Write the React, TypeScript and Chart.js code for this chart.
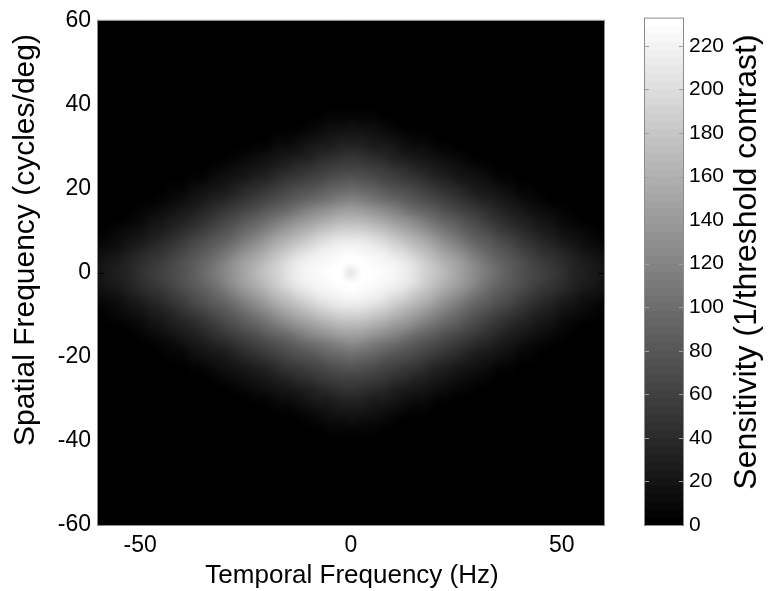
import React, { useEffect, useRef } from "react";
import { Chart, registerables } from "chart.js";

Chart.register(...registerables);

// Sample positions of one quadrant; the surface is symmetric in both axes
const TEMPORAL_FREQ_HZ = [
  0, 2.5, 5, 7.5, 10, 12.5, 15, 17.5, 20, 22.5, 25, 27.5, 30, 32.5, 35, 37.5,
  40, 42.5, 45, 47.5, 50, 52.5, 55, 57.5, 60,
];
const SPATIAL_FREQ_CPD = [
  0, 2.5, 5, 7.5, 10, 12.5, 15, 17.5, 20, 22.5, 25, 27.5, 30, 32.5, 35, 37.5,
  40, 42.5, 45, 47.5, 50, 52.5, 55, 57.5, 60,
];

// Sensitivity (1/threshold contrast): one row per spatial frequency,
// one column per temporal frequency; entries past the end of a row are 0
const SENSITIVITY: number[][] = [
  [205, 231, 230, 228, 223, 216, 205, 192, 179, 164, 151, 137, 123, 109, 97, 86, 76, 67, 59, 51, 44, 36, 30, 24, 19],
  [231, 230, 228, 225, 219, 211, 200, 187, 174, 159, 146, 132, 118, 105, 93, 83, 73, 64, 56, 48, 41, 34, 28, 22, 17],
  [226, 225, 221, 215, 207, 197, 185, 172, 158, 145, 131, 117, 104, 92, 82, 73, 63, 56, 47, 40, 33, 27, 21, 16, 11],
  [213, 211, 206, 198, 188, 177, 165, 153, 140, 127, 114, 101, 90, 80, 70, 62, 53, 46, 38, 31, 25, 20, 14, 10, 6],
  [192, 190, 183, 175, 165, 155, 143, 131, 119, 107, 96, 85, 76, 67, 58, 50, 43, 35, 29, 23, 18, 13, 8, 5, 2],
  [167, 165, 158, 150, 141, 131, 120, 109, 99, 89, 80, 70, 62, 54, 46, 39, 32, 26, 20, 15, 10, 6, 3],
  [142, 140, 133, 125, 117, 107, 98, 89, 81, 72, 64, 56, 49, 42, 35, 28, 22, 17, 12, 8, 5, 2],
  [118, 115, 108, 101, 94, 87, 79, 71, 64, 57, 50, 43, 36, 30, 24, 19, 14, 10, 6, 3],
  [95, 93, 88, 82, 76, 70, 63, 56, 50, 43, 37, 30, 25, 20, 15, 11, 7, 4, 1],
  [77, 75, 70, 65, 60, 54, 48, 42, 36, 31, 25, 20, 15, 11, 7, 4, 1],
  [61, 59, 55, 51, 45, 40, 35, 30, 25, 20, 15, 12, 8, 5, 2],
  [48, 46, 41, 37, 32, 28, 24, 20, 15, 11, 8, 5, 2],
  [34, 33, 29, 26, 22, 18, 14, 11, 7, 5, 2],
  [24, 22, 19, 17, 13, 10, 6, 4, 1],
  [15, 13, 11, 8, 5, 3, 1],
  [7, 5, 4, 2],
  [1],
];

const X_TICKS = [-50, 0, 50];
const Y_TICKS = [-60, -40, -20, 0, 20, 40, 60];
const COLORBAR_TICKS = [0, 20, 40, 60, 80, 100, 120, 140, 160, 180, 200, 220];
const AXIS_LIMIT = 60;
const COLOR_MAX = 232.5;
const COLOR_LEVELS = 64;

const X_TITLE = "Temporal Frequency (Hz)";
const Y_TITLE = "Spatial Frequency (cycles/deg)";
const COLORBAR_TITLE = "Sensitivity (1/threshold contrast)";

const FONT = "'Liberation Sans', Arial, Helvetica, sans-serif";

type Cell = { x: number; y: number; v: number };

// gray(64) colormap lookup
function grayLevel(v: number): number {
  const level = Math.max(
    0,
    Math.min(COLOR_LEVELS - 1, Math.floor((v / COLOR_MAX) * COLOR_LEVELS))
  );
  return Math.round((level * 255) / (COLOR_LEVELS - 1));
}
function grayFor(v: number): string {
  const g = grayLevel(v);
  return `rgb(${g},${g},${g})`;
}

function mirrored(values: number[]): number[] {
  const neg = values.filter((v) => v > 0).map((v) => -v).reverse();
  return [...neg, ...values];
}

const TF_ALL = mirrored(TEMPORAL_FREQ_HZ);
const SF_ALL = mirrored(SPATIAL_FREQ_CPD);

function buildCells(): Cell[] {
  const cells: Cell[] = [];
  for (const sf of SF_ALL) {
    const i = SPATIAL_FREQ_CPD.indexOf(Math.abs(sf));
    const row = SENSITIVITY[i] ?? [];
    for (const tf of TF_ALL) {
      const j = TEMPORAL_FREQ_HZ.indexOf(Math.abs(tf));
      cells.push({ x: tf, y: sf, v: row[j] ?? 0 });
    }
  }
  return cells;
}

const halfTf = (TEMPORAL_FREQ_HZ[1] - TEMPORAL_FREQ_HZ[0]) / 2;
const halfSf = (SPATIAL_FREQ_CPD[1] - SPATIAL_FREQ_CPD[0]) / 2;

// Cells are painted one texel each, then the texture is laid over the
// plot area with interpolated shading between cell centres.
const heatmapPlugin = {
  id: "heatmapCells",
  beforeDatasetsDraw(chart: any) {
    const { ctx, chartArea, scales } = chart;
    const xs = scales.x;
    const ys = scales.y;
    const cells: Cell[] = chart.data.datasets[0].data;
    const nx = TF_ALL.length;
    const ny = SF_ALL.length;
    const tex = document.createElement("canvas");
    tex.width = nx;
    tex.height = ny;
    const tctx = tex.getContext("2d") as CanvasRenderingContext2D;
    const img = tctx.createImageData(nx, ny);
    for (const c of cells) {
      const col = TF_ALL.indexOf(c.x);
      const rowIdx = ny - 1 - SF_ALL.indexOf(c.y);
      const g = grayLevel(c.v);
      const k = (rowIdx * nx + col) * 4;
      img.data[k] = g;
      img.data[k + 1] = g;
      img.data[k + 2] = g;
      img.data[k + 3] = 255;
    }
    tctx.putImageData(img, 0, 0);

    const x0 = xs.getPixelForValue(TF_ALL[0] - halfTf);
    const x1 = xs.getPixelForValue(TF_ALL[nx - 1] + halfTf);
    const y0 = ys.getPixelForValue(SF_ALL[ny - 1] + halfSf);
    const y1 = ys.getPixelForValue(SF_ALL[0] - halfSf);

    ctx.save();
    ctx.beginPath();
    ctx.rect(chartArea.left, chartArea.top, chartArea.width, chartArea.height);
    ctx.clip();
    ctx.fillStyle = "#000";
    ctx.fillRect(chartArea.left, chartArea.top, chartArea.width, chartArea.height);
    ctx.imageSmoothingEnabled = true;
    ctx.imageSmoothingQuality = "high";
    ctx.drawImage(tex, 0, 0, nx, ny, x0, y0, x1 - x0, y1 - y0);
    ctx.restore();
  },
  afterDraw(chart: any) {
    const { ctx, chartArea, scales } = chart;
    const { left, right, top, bottom } = chartArea;
    ctx.save();
    // inward tick marks
    ctx.strokeStyle = "#000";
    ctx.lineWidth = 1;
    ctx.beginPath();
    for (const t of X_TICKS) {
      const px = Math.round(scales.x.getPixelForValue(t)) + 0.5;
      ctx.moveTo(px, bottom);
      ctx.lineTo(px, bottom - 6);
      ctx.moveTo(px, top);
      ctx.lineTo(px, top + 6);
    }
    for (const t of Y_TICKS) {
      const py = Math.round(scales.y.getPixelForValue(t)) + 0.5;
      ctx.moveTo(left, py);
      ctx.lineTo(left + 6, py);
      ctx.moveTo(right, py);
      ctx.lineTo(right - 6, py);
    }
    ctx.stroke();
    // axes box
    ctx.strokeStyle = "#8c8c8c";
    ctx.strokeRect(left - 0.5, top - 0.5, right - left + 1, bottom - top + 1);
    // axis titles
    ctx.fillStyle = "#000";
    ctx.textAlign = "center";
    ctx.textBaseline = "middle";
    ctx.font = `26px ${FONT}`;
    ctx.fillText(X_TITLE, (left + right) / 2 + 1, 576);
    ctx.translate(26, 240);
    ctx.rotate(-Math.PI / 2);
    ctx.font = `30px ${FONT}`;
    ctx.fillText(Y_TITLE, 0, 0);
    ctx.restore();
  },
};

const colorbarPlugin = {
  id: "colorbarFrame",
  afterDraw(chart: any) {
    const { ctx, chartArea, scales } = chart;
    const { left, right, top, bottom } = chartArea;
    ctx.save();
    ctx.strokeStyle = "#a0a0a0";
    ctx.lineWidth = 1;
    ctx.beginPath();
    for (const t of COLORBAR_TICKS) {
      const py = Math.round(scales.y.getPixelForValue(t)) + 0.5;
      ctx.moveTo(left, py);
      ctx.lineTo(left + 4, py);
      ctx.moveTo(right, py);
      ctx.lineTo(right - 4, py);
    }
    ctx.stroke();
    ctx.strokeStyle = "#8c8c8c";
    ctx.strokeRect(left - 0.5, top - 0.5, right - left + 1, bottom - top + 1);
    ctx.fillStyle = "#000";
    ctx.textAlign = "center";
    ctx.textBaseline = "middle";
    ctx.font = `32px ${FONT}`;
    ctx.translate(127, 262);
    ctx.rotate(-Math.PI / 2);
    ctx.fillText(COLORBAR_TITLE, 0, 0);
    ctx.restore();
  },
};

function colorbarFill(context: any) {
  const { chart } = context;
  const area = chart.chartArea;
  if (!area) return "#808080";
  const grad = chart.ctx.createLinearGradient(0, area.bottom, 0, area.top);
  for (let k = 0; k < COLOR_LEVELS; k++) {
    const c = grayFor(((k + 0.5) / COLOR_LEVELS) * COLOR_MAX);
    grad.addColorStop(k / COLOR_LEVELS, c);
    grad.addColorStop((k + 1) / COLOR_LEVELS, c);
  }
  return grad;
}

const tickFont = { family: FONT, size: 23 };

export default function App() {
  const mainRef = useRef<HTMLCanvasElement>(null);
  const barRef = useRef<HTMLCanvasElement>(null);

  useEffect(() => {
    const main = new Chart(mainRef.current as HTMLCanvasElement, {
      type: "scatter",
      data: {
        datasets: [
          {
            data: buildCells() as any,
            pointRadius: 0,
            pointHoverRadius: 0,
          },
        ],
      },
      options: {
        responsive: false,
        animation: false,
        events: [],
        layout: { padding: { top: 18, right: 16, left: 0, bottom: 0 } },
        plugins: { legend: { display: false }, tooltip: { enabled: false } },
        scales: {
          x: {
            type: "linear",
            min: -AXIS_LIMIT,
            max: AXIS_LIMIT,
            afterBuildTicks: (s: any) => {
              s.ticks = X_TICKS.map((value) => ({ value }));
            },
            afterFit: (s: any) => {
              s.height = 66;
            },
            grid: { display: false, drawTicks: false },
            border: { display: false },
            ticks: { font: tickFont, color: "#000", padding: 7, maxRotation: 0 },
          },
          y: {
            type: "linear",
            min: -AXIS_LIMIT,
            max: AXIS_LIMIT,
            afterBuildTicks: (s: any) => {
              s.ticks = Y_TICKS.map((value) => ({ value }));
            },
            afterFit: (s: any) => {
              s.width = 98;
            },
            grid: { display: false, drawTicks: false },
            border: { display: false },
            ticks: { font: tickFont, color: "#000", padding: 7 },
          },
        },
      },
      plugins: [heatmapPlugin],
    });

    const bar = new Chart(barRef.current as HTMLCanvasElement, {
      type: "bar",
      data: {
        labels: [""],
        datasets: [
          {
            data: [COLOR_MAX],
            backgroundColor: colorbarFill,
            borderWidth: 0,
            barPercentage: 1,
            categoryPercentage: 1,
          },
        ],
      },
      options: {
        responsive: false,
        animation: false,
        events: [],
        layout: { padding: { top: 18, right: 0, left: 25, bottom: 66 } },
        plugins: { legend: { display: false }, tooltip: { enabled: false } },
        scales: {
          x: { display: false },
          y: {
            position: "right",
            min: 0,
            max: COLOR_MAX,
            afterBuildTicks: (s: any) => {
              s.ticks = COLORBAR_TICKS.map((value) => ({ value }));
            },
            afterFit: (s: any) => {
              s.width = 85;
            },
            grid: { display: false, drawTicks: false },
            border: { display: false },
            ticks: { font: { family: FONT, size: 21 }, color: "#000", padding: 6 },
          },
        },
      },
      plugins: [colorbarPlugin],
    });

    return () => {
      main.destroy();
      bar.destroy();
    };
  }, []);

  return (
    <div
      style={{
        position: "absolute",
        left: 0,
        top: 0,
        width: 768,
        height: 591,
        background: "#fff",
        overflow: "hidden",
      }}
    >
      <canvas
        ref={mainRef}
        width={620}
        height={591}
        style={{ position: "absolute", left: 0, top: 0 }}
      />
      <canvas
        ref={barRef}
        width={148}
        height={591}
        style={{ position: "absolute", left: 620, top: 0 }}
      />
    </div>
  );
}
